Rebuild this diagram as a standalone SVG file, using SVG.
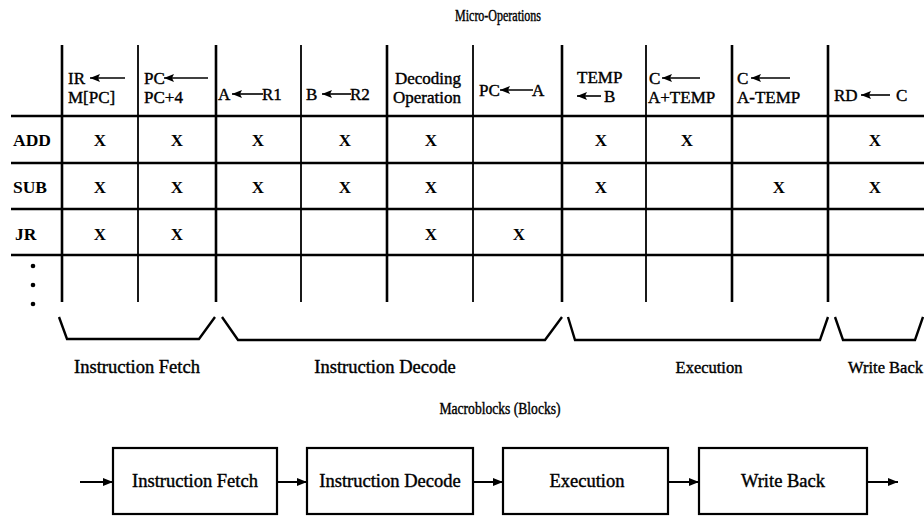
<svg xmlns="http://www.w3.org/2000/svg" width="924" height="520" viewBox="0 0 924 520">
  <style>
    .t { font-family: "Liberation Serif", "Times New Roman", serif; font-size: 18.5px; fill: #000; stroke: #000; stroke-width: 0.4; }
    .h { font-size: 17px; }
    .s { font-size: 16.5px; }
    .c { text-anchor: middle; }
    .b { font-weight: bold; stroke-width: 0; font-size: 17.5px; }
    .x { font-family: "Liberation Serif", "Times New Roman", serif; font-size: 17px; font-weight: bold; text-anchor: middle; fill: #000; }
    .grid { stroke: #000; fill: none; }
    .thick { stroke-width: 2.6; }
    .thin { stroke-width: 1.8; }
    .brace { stroke: #000; stroke-width: 2.4; fill: none; stroke-linejoin: miter; }
    .harrow { stroke: #000; stroke-width: 1.6; fill: none; marker-start: url(#headL); }
    .box { fill: #fff; stroke: #000; stroke-width: 2.2; }
    .flow { stroke: #000; stroke-width: 2; fill: none; marker-end: url(#flowHead); }
  </style>
  <defs>
    <marker id="headL" viewBox="0 0 10 8" refX="0" refY="4" markerWidth="10" markerHeight="8" markerUnits="userSpaceOnUse" orient="auto">
      <path d="M0,4 L10,0 L8,4 L10,8 Z" fill="#000"/>
    </marker>
    <marker id="flowHead" viewBox="0 0 10 8" refX="10" refY="4" markerWidth="10" markerHeight="8" markerUnits="userSpaceOnUse" orient="auto">
      <path d="M0,0 L10,4 L0,8 Z" fill="#000"/>
    </marker>
  </defs>
  <rect width="924" height="520" fill="#fff"/>

  <!-- Upper table: micro-operations per instruction -->
  <g id="micro-operations">
    <text class="t c" style="font-size:16px" transform="translate(498,21) scale(0.75,1)">Micro-Operations</text>

    <!-- column rules -->
    <g class="grid">
      <line class="thick" x1="62" y1="45" x2="62" y2="302"/>
      <line class="thin" x1="138" y1="45" x2="138" y2="302"/>
      <line class="thick" x1="216" y1="45" x2="216" y2="302"/>
      <line class="thin" x1="301" y1="45" x2="301" y2="302"/>
      <line class="thick" x1="387" y1="45" x2="387" y2="302"/>
      <line class="thin" x1="473" y1="45" x2="473" y2="302"/>
      <line class="thick" x1="562" y1="45" x2="562" y2="302"/>
      <line class="thin" x1="646" y1="45" x2="646" y2="302"/>
      <line class="thick" x1="732" y1="45" x2="732" y2="302"/>
      <line class="thick" x1="828" y1="45" x2="828" y2="302"/>
      <!-- row rules -->
      <line class="thick" x1="11" y1="116" x2="924" y2="116"/>
      <line class="thick" x1="11" y1="163" x2="924" y2="163"/>
      <line class="thick" x1="11" y1="209" x2="924" y2="209"/>
      <line class="thick" x1="11" y1="255" x2="924" y2="255"/>
    </g>

    <!-- column headings -->
    <g id="headings">
      <text class="t h" x="68" y="84">IR</text>
      <line class="harrow" x1="90" y1="78" x2="125" y2="78"/>
      <text class="t h" x="68" y="103">M[PC]</text>

      <text class="t h" x="144" y="84">PC</text>
      <line class="harrow" x1="164" y1="78" x2="208" y2="78"/>
      <text class="t h" x="144" y="103">PC+4</text>

      <text class="t h" x="218" y="100">A</text>
      <line class="harrow" x1="232" y1="94" x2="263" y2="94"/>
      <text class="t h" x="262" y="100">R1</text>

      <text class="t h" x="306" y="100">B</text>
      <line class="harrow" x1="322" y1="94" x2="351" y2="94"/>
      <text class="t h" x="350" y="100">R2</text>

      <text class="t h" x="395" y="84">Decoding</text>
      <text class="t h" x="393" y="103">Operation</text>

      <text class="t h" x="479" y="96">PC</text>
      <line class="harrow" x1="500" y1="90" x2="533" y2="90"/>
      <text class="t h" x="532" y="96">A</text>

      <text class="t h" x="577" y="83">TEMP</text>
      <line class="harrow" x1="577" y1="96" x2="601" y2="96"/>
      <text class="t h" x="604" y="102">B</text>

      <text class="t h" x="649" y="84">C</text>
      <line class="harrow" x1="662" y1="78" x2="700" y2="78"/>
      <text class="t h" x="648" y="103">A+TEMP</text>

      <text class="t h" x="737" y="84">C</text>
      <line class="harrow" x1="751" y1="78" x2="790" y2="78"/>
      <text class="t h" x="737" y="103">A-TEMP</text>

      <text class="t h" x="834" y="101">RD</text>
      <line class="harrow" x1="861" y1="95" x2="890" y2="95"/>
      <text class="t h" x="896" y="101">C</text>
    </g>

    <!-- instruction rows -->
    <g id="row-add">
      <text class="t b" x="13" y="146">ADD</text>
      <text class="x" x="100" y="146">X</text>
      <text class="x" x="177" y="146">X</text>
      <text class="x" x="258" y="146">X</text>
      <text class="x" x="345" y="146">X</text>
      <text class="x" x="431" y="146">X</text>
      <text class="x" x="601" y="146">X</text>
      <text class="x" x="687" y="146">X</text>
      <text class="x" x="875" y="146">X</text>
    </g>
    <g id="row-sub">
      <text class="t b" x="13" y="193">SUB</text>
      <text class="x" x="100" y="193">X</text>
      <text class="x" x="177" y="193">X</text>
      <text class="x" x="258" y="193">X</text>
      <text class="x" x="345" y="193">X</text>
      <text class="x" x="431" y="193">X</text>
      <text class="x" x="601" y="193">X</text>
      <text class="x" x="779" y="193">X</text>
      <text class="x" x="875" y="193">X</text>
    </g>
    <g id="row-jr">
      <text class="t b" x="15" y="240">JR</text>
      <text class="x" x="100" y="240">X</text>
      <text class="x" x="177" y="240">X</text>
      <text class="x" x="431" y="240">X</text>
      <text class="x" x="519" y="240">X</text>
    </g>
    <g id="row-more" fill="#000">
      <circle cx="33" cy="266" r="2.3"/>
      <circle cx="33" cy="285" r="2.3"/>
      <circle cx="33" cy="304" r="2.3"/>
    </g>
  </g>

  <!-- Stage brackets grouping the micro-operations -->
  <g id="stage-brackets">
    <polyline class="brace" points="59,317 67,339 199,339 215,317"/>
    <polyline class="brace" points="222,317 238,340 545,340 562,317"/>
    <polyline class="brace" points="568,317 575,340 820,340 828,317"/>
    <polyline class="brace" points="835,317 843,340 915,340 923,317"/>
    <text class="t c" x="137" y="373">Instruction Fetch</text>
    <text class="t c" x="385" y="373">Instruction Decode</text>
    <text class="t c s" x="709" y="373">Execution</text>
    <text class="t s" x="923" y="373" text-anchor="end">Write Back</text>
  </g>

  <!-- Macroblocks pipeline -->
  <text class="t c" style="font-size:16px" transform="translate(500,414) scale(0.85,1)">Macroblocks (Blocks)</text>

  <g id="connectors">
    <line class="flow" x1="80" y1="482" x2="113" y2="482"/>
    <line class="flow" x1="277" y1="482" x2="307" y2="482"/>
    <line class="flow" x1="473" y1="482" x2="503" y2="482"/>
    <line class="flow" x1="668" y1="482" x2="699" y2="482"/>
    <line class="flow" x1="867" y1="482" x2="898" y2="482"/>
  </g>

  <g id="block-fetch">
    <rect class="box" x="113" y="448" width="164" height="66"/>
    <text class="t c" x="195" y="487">Instruction Fetch</text>
  </g>
  <g id="block-decode">
    <rect class="box" x="307" y="448" width="166" height="66"/>
    <text class="t c" x="390" y="487">Instruction Decode</text>
  </g>
  <g id="block-execution">
    <rect class="box" x="503" y="448" width="165" height="66"/>
    <text class="t c" x="587" y="487">Execution</text>
  </g>
  <g id="block-writeback">
    <rect class="box" x="699" y="448" width="168" height="66"/>
    <text class="t c" x="783" y="487">Write Back</text>
  </g>
</svg>
